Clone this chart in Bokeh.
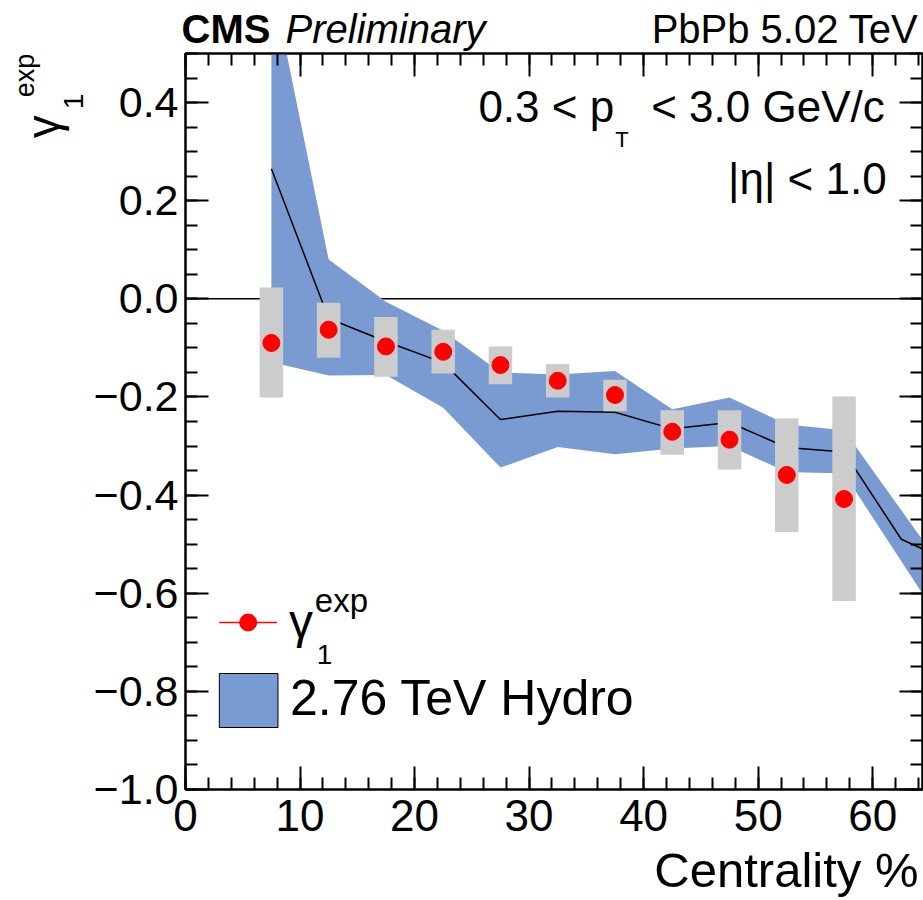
import math
from bokeh.plotting import figure
from bokeh.layouts import column, row
from bokeh.models import (Range1d, LinearAxis, Label, CustomJSTickFormatter,
                          SingleIntervalTicker, Span)
from bokeh.embed import file_html
from bokeh.resources import INLINE

# ---------------- data ----------------
centrality = [7.5, 12.5, 17.5, 22.5, 27.5, 32.5, 37.5, 42.5, 47.5, 52.5, 57.5]
gamma1_exp = [-0.090, -0.063, -0.097, -0.108, -0.135, -0.167, -0.196, -0.271, -0.287, -0.359, -0.408]
sys_top = [0.023, -0.008, -0.037, -0.063, -0.097, -0.133, -0.165, -0.227, -0.227, -0.244, -0.199]
sys_bottom = [-0.201, -0.120, -0.159, -0.152, -0.174, -0.201, -0.229, -0.318, -0.348, -0.475, -0.616]

hydro_x = [7.5, 12.5, 17.5, 22.5, 27.5, 32.5, 37.5, 42.5, 47.5, 52.5, 57.5, 62.5, 67.5]
hydro_mid = [0.265, -0.040, -0.087, -0.130, -0.246, -0.229, -0.231, -0.265, -0.252, -0.303, -0.312, -0.490, -0.543]
hydro_up = [0.652, 0.080, -0.006, -0.065, -0.150, -0.154, -0.147, -0.225, -0.201, -0.256, -0.268, -0.431, -0.594]
hydro_lo = [-0.129, -0.156, -0.155, -0.222, -0.344, -0.302, -0.317, -0.305, -0.300, -0.353, -0.356, -0.535, -0.713]

x_tick_step = 10
y_tick_step = 0.2
x_title = "Centrality %"

# ---------------- page geometry ----------------
FONT = "Liberation Sans"
BLUE = "#7a9bd2"
GREY = "#cccccc"
W, H = 923, 900
HEAD_H = 52          # header strip height
SPLIT_X = 90         # width of the y-title strip
SPLIT_Y = 843        # page y where the x-title strip starts
FL, FR, FT, FB = 181, 922, 53, 789   # frame edges in page pixels
BASE_SHIFT = 0.385   # label anchor correction (em) so that y is the text baseline
MAIN_W = W - SPLIT_X
MAIN_H = SPLIT_Y - HEAD_H


def text_fig(width, height, x0, x1, y_top, y_bottom):
    f = figure(width=width, height=height, x_range=Range1d(x0, x1),
               y_range=Range1d(y_bottom, y_top), output_backend="svg",
               toolbar_location=None, min_border=0,
               x_axis_location=None, y_axis_location=None)
    f.grid.visible = False
    f.outline_line_color = None
    f.background_fill_color = "white"
    f.border_fill_color = "white"
    return f


def lab(f, x, y, text, size, align="left", style="normal", angle=0.0, **kw):
    # (x, y): baseline start/end point in page pixels (y grows downward)
    if angle == 0.0:
        y = y - BASE_SHIFT * size
    else:
        x = x - BASE_SHIFT * size
    f.add_layout(Label(x=x, y=y, text=text, text_font=FONT, text_font_size=f"{size}px",
                       text_color="black", text_align=align, text_baseline="alphabetic",
                       text_font_style=style, angle=angle, **kw))


# ---------------- header ----------------
head = text_fig(W, HEAD_H, 0, W, 0, HEAD_H)
lab(head, 181, 44, "CMS", 40, style="bold")
lab(head, 285, 44, "Preliminary", 40, style="italic")
lab(head, 918, 44, "PbPb 5.02 TeV", 40, align="right")

# ---------------- y title strip ----------------
ytit = text_fig(SPLIT_X, MAIN_H, 0, SPLIT_X, HEAD_H, SPLIT_Y)
rot = math.pi / 2
lab(ytit, 60, 143, "\u03b3", 46, angle=rot)
lab(ytit, 84, 112, "1", 28, angle=rot)
lab(ytit, 35, 99, "exp", 27, angle=rot)

# ---------------- x title strip ----------------
xtit = text_fig(W, H - SPLIT_Y, 0, W, SPLIT_Y, H)
lab(xtit, 918, 888.5, x_title, 49, align="right")

# ---------------- main plot ----------------
p = figure(width=MAIN_W, height=MAIN_H, x_range=Range1d(0, 64.35), y_range=Range1d(-1.0, 0.5),
           output_backend="svg", toolbar_location=None,
           min_border_left=FL - SPLIT_X, min_border_right=W - FR,
           min_border_top=FT - HEAD_H, min_border_bottom=SPLIT_Y - FB)
p.grid.visible = False
p.outline_line_color = "black"
p.outline_line_width = 2
p.background_fill_color = "white"
p.border_fill_color = "white"

# pixel-space helper ranges (page pixels) for the legend
p.extra_x_ranges = {"px": Range1d(FL, FR)}
p.extra_y_ranges = {"py": Range1d(FB, FT)}

yfmt = CustomJSTickFormatter(code="""
    if (Math.abs(tick) < 1e-9) return '0.0';
    return tick.toFixed(1).replace('-', '\\u2212');
""")
xfmt = CustomJSTickFormatter(code="return Math.round(tick).toString();")


def style_axis(ax, size="44px"):
    ax.axis_line_color = "black"
    ax.axis_line_width = 2
    ax.major_tick_in = 23
    ax.major_tick_out = 0
    ax.minor_tick_in = 12
    ax.minor_tick_out = 0
    ax.major_tick_line_width = 2
    ax.minor_tick_line_width = 2
    ax.major_tick_line_color = "black"
    ax.minor_tick_line_color = "black"
    ax.major_label_text_font = FONT
    ax.major_label_text_font_size = size
    ax.major_label_text_color = "black"


xa = p.xaxis[0]
xa.ticker = SingleIntervalTicker(interval=x_tick_step, num_minor_ticks=5)
xa.formatter = xfmt
style_axis(xa)
xa.major_label_standoff = 10

ya = p.yaxis[0]
ya.ticker = SingleIntervalTicker(interval=y_tick_step, num_minor_ticks=4)
ya.formatter = yfmt
style_axis(ya, "43px")
ya.major_label_standoff = 7

top_ax = LinearAxis(ticker=SingleIntervalTicker(interval=x_tick_step, num_minor_ticks=5),
                    formatter=CustomJSTickFormatter(code="return '';"))
style_axis(top_ax, "1px")
top_ax.major_label_standoff = 0
p.add_layout(top_ax, "above")
right_ax = LinearAxis(ticker=SingleIntervalTicker(interval=y_tick_step, num_minor_ticks=4),
                      formatter=CustomJSTickFormatter(code="return '';"))
style_axis(right_ax, "1px")
right_ax.major_label_standoff = 0
p.add_layout(right_ax, "right")

zero = Span(location=0, dimension="width", line_color="black", line_width=1.5, level="underlay")
p.add_layout(zero)

p.varea(x=hydro_x, y1=hydro_lo, y2=hydro_up, fill_color=BLUE)
p.line(hydro_x, hydro_mid, line_color="black", line_width=1.5)
p.vbar(x=centrality, width=2.05, top=sys_top, bottom=sys_bottom, fill_color=GREY, line_color=None)
p.scatter(centrality, gamma1_exp, size=17, fill_color="red", line_color="red")

# legend marks (page pixels)
p.segment(x0=[215], y0=[622], x1=[273], y1=[622], x_range_name="px", y_range_name="py",
          line_color="red", line_width=1.5)
p.scatter([244], [622], size=17, fill_color="red", line_color="red",
          x_range_name="px", y_range_name="py")
p.quad(left=[215], right=[274], top=[673], bottom=[727], fill_color=BLUE,
       line_color="black", line_width=1, x_range_name="px", y_range_name="py")

PX = dict(x_range_name="px", y_range_name="py")
# kinematic cuts
lab(p, 612, 123, "0.3 < p", 44, align="right", **PX)
lab(p, 613, 147, "T", 22, **PX)
lab(p, 884, 123, "< 3.0 GeV/c", 44, align="right", **PX)
lab(p, 886, 195, "|\u03b7| < 1.0", 44, align="right", **PX)
# legend texts
lab(p, 285, 639, "\u03b3", 48, **PX)
lab(p, 311, 613, "exp", 33, **PX)
lab(p, 313, 665, "1", 28, **PX)
lab(p, 286, 717, "2.76 TeV Hydro", 50, **PX)

layout = column(head, row(ytit, p), xtit)
open("out.html", "w").write(file_html(layout, INLINE))
